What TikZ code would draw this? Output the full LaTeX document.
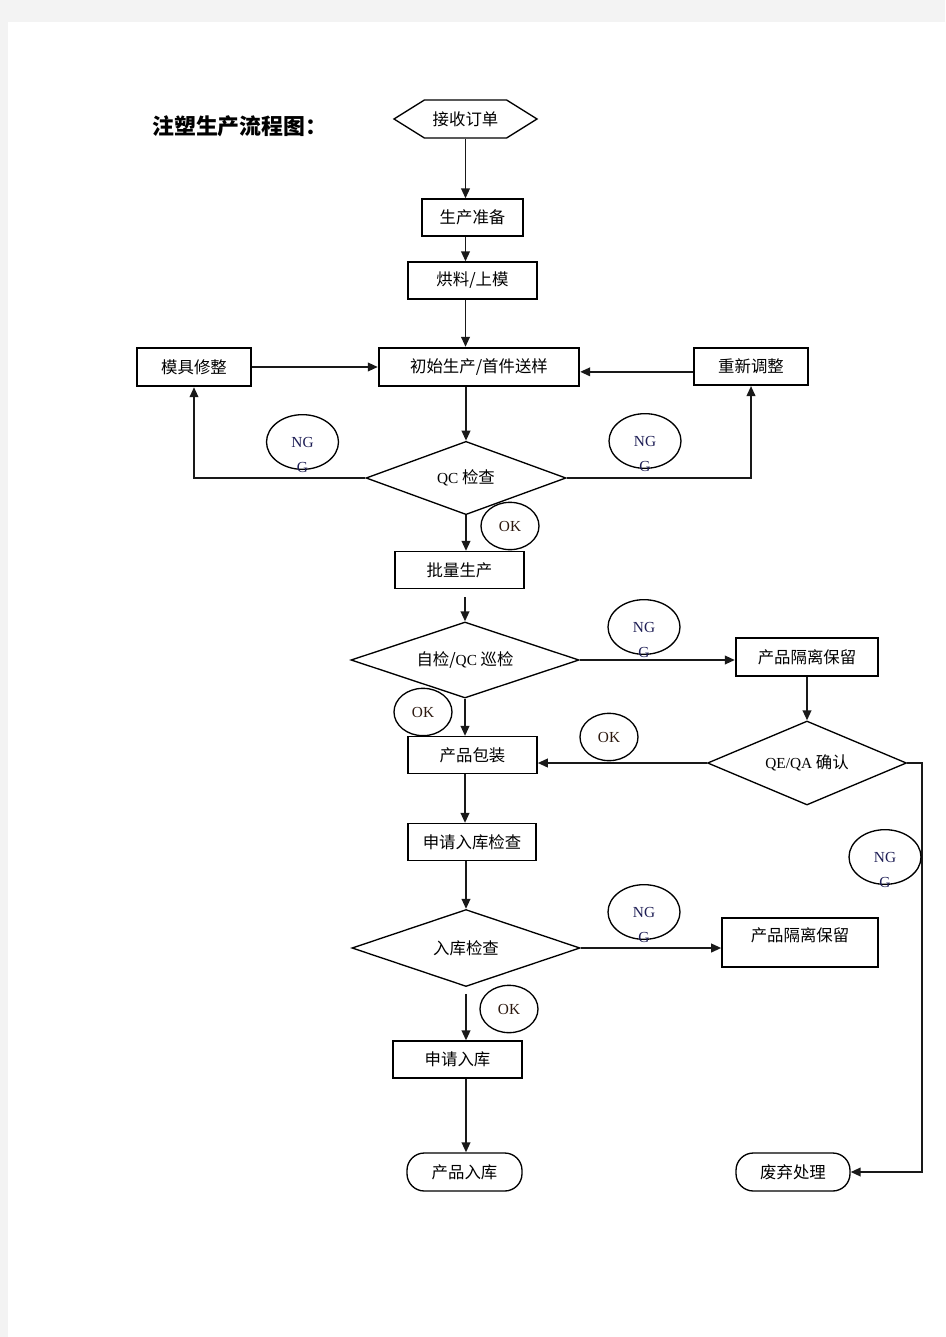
\documentclass[tikz,border=0pt]{standalone}
\usepackage{fontspec}
\setmainfont{Liberation Serif}
\newfontfamily\cjk{Noto Sans CJK SC}
\usetikzlibrary{arrows.meta, shapes.geometric, shapes.symbols}

\definecolor{pagegray}{RGB}{243,243,243}
\definecolor{ngblue}{RGB}{30,30,85}
\definecolor{okbrown}{RGB}{45,25,15}
\newcommand\latn[1]{{\rmfamily\fontsize{11.5}{13}\selectfont #1}}

\begin{document}
\begin{tikzpicture}[
    x=0.75pt, y=-0.75pt,
    line/.style={line width=1.3pt, draw=black!90},
    arr/.style={line, -{Triangle[length=7.5pt,width=6.5pt]}},
    box/.style={draw, line width=1.2pt, minimum height=27.5pt, inner sep=2pt,
        font=\cjk\fontsize{12.3}{14}\selectfont},
    boxb/.style={box, line width=1.8pt},
    dec/.style={diamond, aspect=3, draw, line width=1pt, inner sep=0pt,
        font=\cjk\fontsize{12.3}{14}\selectfont},
    hexa/.style={signal, signal to=west and east, signal pointer angle=64,
        draw, line width=1pt, inner sep=0pt, minimum width=107.25pt,
        minimum height=28.5pt, font=\cjk\fontsize{12.3}{14}\selectfont},
    term/.style={box, rounded corners=13pt, line width=1pt, minimum height=28.5pt},
    ng/.style={ellipse, draw, fill=white, line width=1pt, inner sep=0pt,
        minimum width=54pt, minimum height=41pt, text=ngblue,
        font=\rmfamily\fontsize{11.5}{13}\selectfont,
        label={[anchor=center, yshift=2pt, text=ngblue,
            font=\rmfamily\fontsize{11.5}{13}\selectfont]south:G}},
    ok/.style={ellipse, draw, fill=white, line width=1pt, inner sep=0pt,
        minimum width=43.5pt, minimum height=35.5pt, text=okbrown,
        font=\rmfamily\fontsize{11.5}{13}\selectfont}
]

% page
\fill[pagegray] (0,0) rectangle (945,1337);
\fill[white] (8,22) rectangle (945,1337);

% title
\node[anchor=west, inner sep=0pt, font=\cjk\bfseries\fontsize{16.4}{19}\selectfont] (title)
    at (152,126) {注塑生产流程图：};

% =========================
% Main column
% =========================
\node[hexa] (order) at (465.5,119) {接收订单};
\node[box, minimum width=75.75pt] (prep) at (472.5,217.5) {生产准备};
\node[box, minimum width=96.75pt] (dry) at (472.5,280.5) {烘料/上模};
\node[boxb, minimum width=150pt, minimum height=28.5pt] (first) at (479,367) {初始生产/首件送样};
\node[dec, minimum width=150pt, minimum height=55pt] (qc) at (466,478) {\latn{QC} 检查};
\node[box, minimum width=96.75pt] (mass) at (459.5,570) {批量生产};
\node[dec, minimum width=171pt, minimum height=57pt] (patrol) at (465,660) {自检/\latn{QC} 巡检};
\node[box, minimum width=96.75pt] (pack) at (472.5,755) {产品包装};
\node[box, minimum width=96pt] (apply1) at (472,842) {申请入库检查};
\node[dec, minimum width=171pt, minimum height=57.75pt] (stock) at (466,948) {入库检查};
\node[box, minimum width=96.75pt] (apply2) at (457.5,1059.5) {申请入库};
\node[term, minimum width=86.25pt] (instock) at (464.5,1172) {产品入库};

% =========================
% Side boxes
% =========================
\node[boxb, minimum width=85.5pt, minimum height=28.5pt] (mold) at (194,367) {模具修整};
\node[boxb, minimum width=85.5pt] (adjust) at (751,366.5) {重新调整};
\node[boxb, minimum width=106.5pt, minimum height=28.5pt] (iso1) at (807,657) {产品隔离保留};
\node[dec, minimum width=149.25pt, minimum height=63pt] (qa) at (807,763) {\latn{QE/QA} 确认};
\node[box, minimum width=117pt, minimum height=36.75pt, text height=9pt, text depth=11pt]
    (iso2) at (800,942.5) {产品隔离保留};
\node[term, minimum width=85.5pt] (scrap) at (793,1172) {废弃处理};

% =========================
% Connectors
% =========================
\draw[arr] (order.south) -- (order.south |- prep.north);
\draw[arr] (prep.south -| order.south) -- (dry.north -| order.south);
\draw[arr] (dry.south -| order.south) -- (first.north -| order.south);
\draw[arr] (first.south -| qc.north) -- (qc.north);
\draw[arr] (mold.east) -- (first.west);
\draw[arr] ([yshift=-4pt]adjust.west) -- ([yshift=-4pt]adjust.west -| first.east);
\draw[arr] (qc.west) -| (mold.south);
\draw[arr] (qc.east) -| (adjust.south);
\draw[arr] (qc.south) -- (qc.south |- mass.north);
\draw[arr, shorten <=6pt] (patrol.north |- mass.south) -- (patrol.north);
\draw[arr] (patrol.east) -- (patrol.east -| iso1.west);
\draw[arr] (iso1.south) -- (qa.north);
\draw[arr] (patrol.south) -- (patrol.south |- pack.north);
\draw[arr] (qa.west) -- (qa.west -| pack.east);
\coordinate (qaturn) at (922,763);
\draw[arr] (qa.east) -- (qaturn) |- (scrap.east);
\draw[arr] (pack.south -| patrol.south) -- (apply1.north -| patrol.south);
\draw[arr] (apply1.south -| stock.north) -- (stock.north);
\draw[arr] (stock.east) -- (stock.east -| iso2.west);
\draw[arr, shorten <=5pt] (stock.south) -- (stock.south |- apply2.north);
\draw[arr] (apply2.south -| stock.south) -- (instock.north -| stock.south);

% =========================
% NG / OK marks
% =========================
\foreach \i/\x/\y in {1/302.5/442, 2/645/441, 3/644/627, 4/885/857, 5/644/912}
{
    \node[ng] (ng\i) at (\x,\y) {NG};
}
\foreach \i/\x/\y in {1/510/526, 2/423/712, 3/609/737, 4/509/1009}
{
    \node[ok] (ok\i) at (\x,\y) {OK};
}

\end{tikzpicture}
\end{document}
